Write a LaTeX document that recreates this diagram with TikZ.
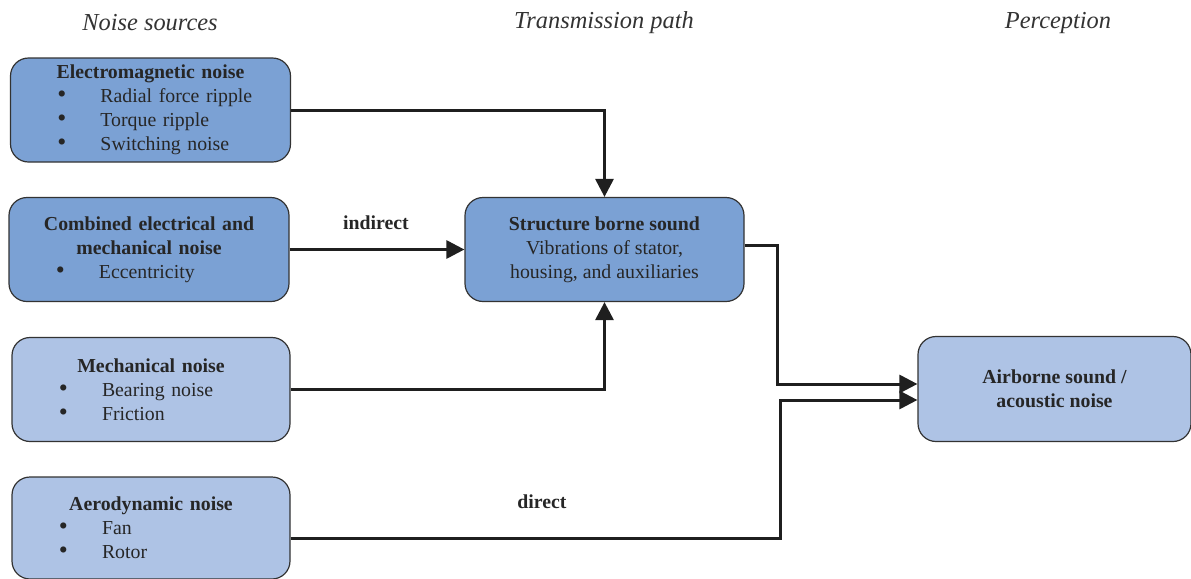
\documentclass[tikz,border=0pt]{standalone}
\usepackage{fontspec}
\usepackage{graphicx}
\setmainfont{Liberation Serif}
\usetikzlibrary{arrows.meta}
\definecolor{darkbox}{RGB}{123,161,212}
\definecolor{lightbox}{RGB}{174,195,229}
\newcommand{\bul}[1]{\makebox[45pt][l]{\hspace{23.5pt}\scalebox{1.3}{\textbullet}}#1}
\newcommand{\boxtitle}[1]{\makebox[\linewidth]{\textbf{#1}}}

\begin{document}
\begin{tikzpicture}[x=0.5pt,y=-0.5pt,
  box/.style={draw=black!80, line width=0.6pt, rounded corners=9pt, inner sep=0pt,
    minimum height=52pt, font=\fontsize{9.9}{12}\selectfont, text=black!85},
  srcbox/.style={box, text width=140pt, align=left},
  flow/.style={line width=1.5pt, draw=black!88, -{Triangle[length=9pt,width=9pt]}},
  head/.style={font=\fontsize{12.2}{14}\selectfont\itshape, text=black!80},
  lbl/.style={font=\fontsize{9.9}{12}\selectfont\bfseries, text=black!85}]
			%%%%% START %%%%%
			\useasboundingbox (0,0) rectangle (1191,579);
			
			\node[head] (hsrc) at (150,23) {Noise sources};
			\node[head] (hpath) at (604,23) {Transmission path};
			\node[head] (hperc) at (1058,23) {Perception};
			
			\node[srcbox, fill=darkbox] (em) at (150.5,110) {\boxtitle{Electromagnetic noise}\\
				\bul{Radial force ripple}\\ \bul{Torque ripple}\\ \bul{Switching noise}};
			\node[srcbox, fill=darkbox] (comb) at (149,249.5) {\boxtitle{Combined electrical and}\\
				\boxtitle{mechanical noise}\\ \bul{Eccentricity}};
			\node[srcbox, fill=lightbox, text width=139pt] (mech) at (151,389.5) {\boxtitle{Mechanical noise}\\
				\bul{Bearing noise}\\ \bul{Friction}};
			\node[srcbox, fill=lightbox, text width=139pt, minimum height=51pt] (aero) at (151,528) {\boxtitle{Aerodynamic noise}\\
				\bul{Fan}\\ \bul{Rotor}};
			
			\node[box, fill=darkbox, minimum width=139.5pt, align=center] (sb) at (604.5,249.5)
				{\textbf{Structure borne sound}\\ Vibrations of stator,\\ housing, and auxiliaries};
			\node[box, fill=lightbox, minimum width=136.5pt, minimum height=52.5pt, align=center, font=\fontsize{9.9}{12}\selectfont\bfseries] (air) at (1054.5,389)
				{Airborne sound /\\ acoustic noise};
			
			\node[lbl] (lind) at (376,223) {indirect};
			\node[lbl] (ldir) at (542,502) {direct};
			
			\coordinate (jt) at (777,384);
			\coordinate (jb) at (780,400);
			
			\draw[flow] (em.east) -| (sb.north);
			\draw[flow] (comb.east) -- (sb.west);
			\draw[flow] (mech.east) -| (sb.south);
			\draw[flow] ([yshift=2pt]sb.east) -| (jt) -- (jt -| air.west);
			\draw[flow] ([yshift=-5pt]aero.east) -| (jb) -- (jb -| air.west);
			%%%%% END %%%%%
\end{tikzpicture}
\end{document}
